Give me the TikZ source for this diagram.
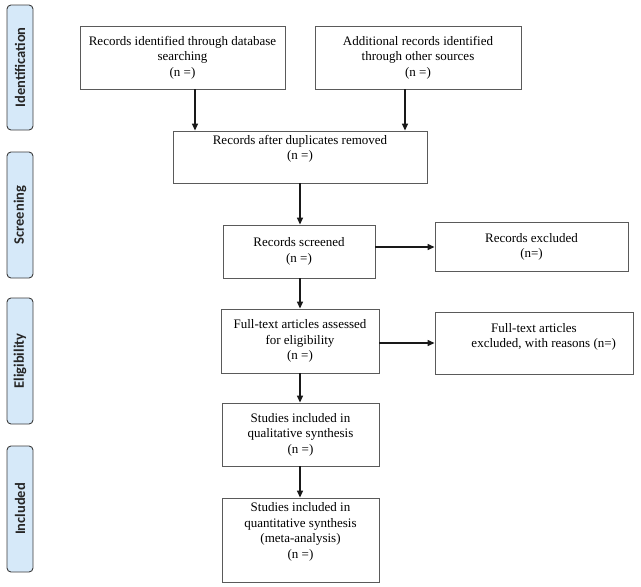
\documentclass[tikz,border=0pt]{standalone}
\usepackage{fontspec}
\setmainfont{Liberation Serif}
\newfontfamily\sidefont{Carlito}
\usetikzlibrary{arrows.meta}
\definecolor{sidefill}{HTML}{D6E9F9}
\definecolor{sideline}{HTML}{3C3C3C}
\definecolor{boxline}{HTML}{5A5A5A}
\tikzset{
  x=1pt, y=-1pt,
  flowbox/.style={draw=boxline, line width=0.9pt, fill=white, align=center,
    inner sep=0pt, font=\fontsize{13}{15.5}\selectfont},
  sidebox/.style={draw=sideline, line width=0.9pt, fill=sidefill, rounded corners=4pt,
    rotate=90, minimum height=26pt, inner sep=0pt,
    font=\sidefont\bfseries\fontsize{14.5}{16}\selectfont, text=black!85},
  flowarrow/.style={-{Triangle[length=7pt,width=6pt]}, line width=1.4pt, black!90},
}
\begin{document}
\begin{tikzpicture}
\useasboundingbox (0,0) rectangle (641,587);
% side labels
\node[sidebox, minimum width=125pt] (sid) at (20,67.5) {Identification};
\node[sidebox, minimum width=126pt] (sscr) at (20,215) {Screening};
\node[sidebox, minimum width=126pt] (selig) at (20,361) {Eligibility};
\node[sidebox, minimum width=126pt] (sinc) at (20,509) {Included};
% boxes
\node[flowbox, minimum width=205pt, minimum height=63pt] (db) at (182.5,57.5)
  {Records identified through database\\searching\\(n =)};
\node[flowbox, minimum width=206pt, minimum height=63pt] (other) at (418,57.5)
  {Additional records identified\\through other sources\\(n =)};
\node[flowbox, minimum width=254pt, minimum height=52pt] (dup) at (300,157)
  {Records after duplicates removed\\(n =)\\[4pt]};
\node[flowbox, minimum width=152pt, minimum height=53pt] (scr) at (299,251.5)
  {Records screened\\(n =)};
\node[flowbox, minimum width=193pt, minimum height=49pt] (excl) at (531.5,247)
  {Records excluded\\(n=)};
\node[flowbox, minimum width=158pt, minimum height=64pt] (full) at (300,341)
  {Full-text articles assessed\\for eligibility\\(n =)};
\node[flowbox, minimum width=198pt, minimum height=62pt] (fexcl) at (534,343) {};
\node[align=center, inner sep=0pt, font=\fontsize{13}{15.5}\selectfont] (fexclt) at (534,337)
  {Full-text articles\\\hspace*{1.5em}excluded, with reasons (n=)};
\node[flowbox, minimum width=157pt, minimum height=63pt] (qual) at (300.5,434.5)
  {Studies included in\\qualitative synthesis\\(n =)};
\node[flowbox, minimum width=157pt, minimum height=84pt] (quant) at (300.5,540)
  {Studies included in\\quantitative synthesis\\(meta-analysis)\\(n =)\\[4pt]};
% arrows
\draw[flowarrow] (db.south -| 195,0) -- (dup.north -| 195,0);
\draw[flowarrow] (other.south -| 405,0) -- (dup.north -| 405,0);
\draw[flowarrow] (dup.south) -- (scr.north -| dup.south);
\draw[flowarrow] (scr.south -| dup.south) -- (full.north -| dup.south);
\draw[flowarrow] (full.south) -- (qual.north -| full.south);
\draw[flowarrow] (qual.south -| full.south) -- (quant.north -| full.south);
\draw[flowarrow] (scr.east |- excl.west) -- (excl.west);
\draw[flowarrow] (full.east |- fexcl.west) -- (fexcl.west);
\end{tikzpicture}
\end{document}
